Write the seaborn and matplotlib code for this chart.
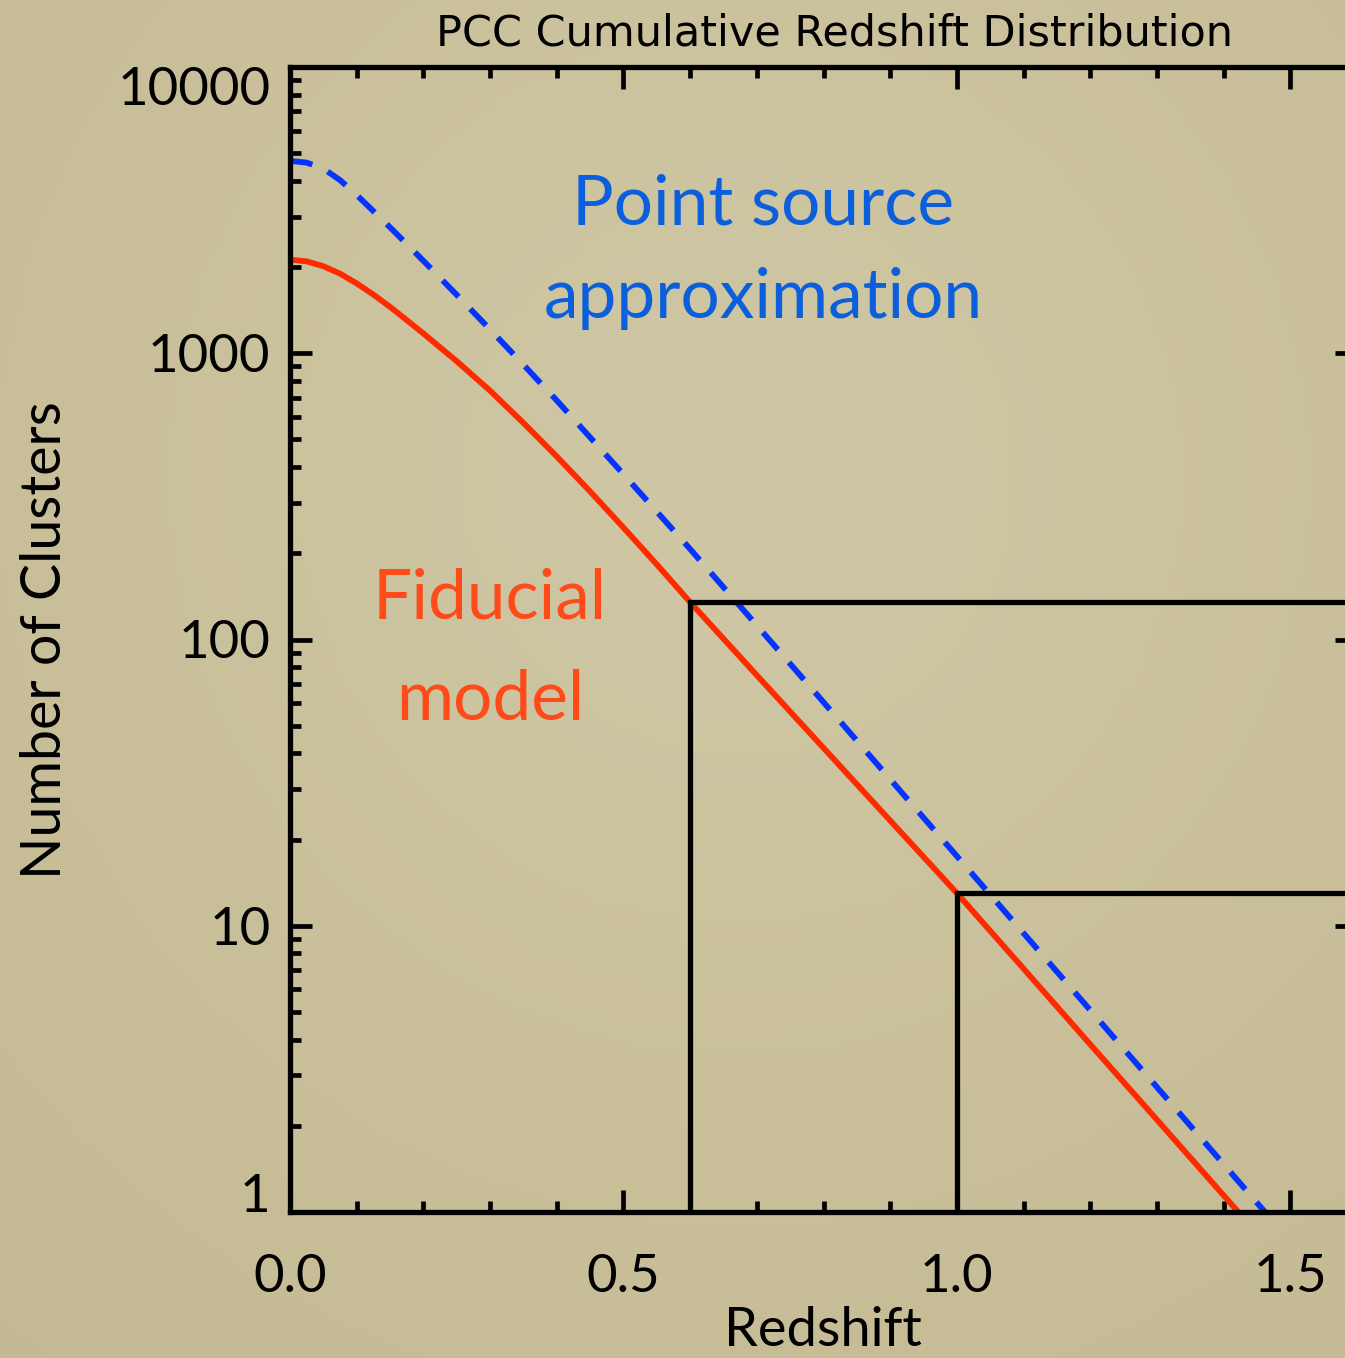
import numpy as np
import pandas as pd
import matplotlib
matplotlib.use("Agg")
import matplotlib.pyplot as plt
from matplotlib.ticker import FixedLocator, LogLocator, NullFormatter, FixedFormatter
import seaborn as sns

# Cumulative cluster counts N(>z) versus redshift
z_fiducial = [0.000, 0.025, 0.050, 0.075, 0.100, 0.125, 0.150, 0.175, 0.200,
              0.250, 0.300, 0.350, 0.400, 0.450, 0.500, 0.550, 0.600, 0.700,
              0.800, 0.900, 1.000, 1.100, 1.200, 1.300, 1.422]
n_fiducial = [2123, 2094, 2014, 1897, 1754, 1603, 1452, 1306, 1172,
              938, 740, 571, 436, 329, 246, 183, 135, 75.0,
              41.8, 23.3, 13.0, 7.08, 3.85, 2.10, 1.0]

z_point = [0.000, 0.025, 0.050, 0.075, 0.100, 0.150, 0.200, 0.250, 0.300,
           0.350, 0.400, 0.500, 0.600, 0.700, 0.800, 0.900, 1.000, 1.100,
           1.200, 1.300, 1.462]
n_point = [4699, 4634, 4416, 4027, 3573, 2754, 2104, 1600, 1211,
           912, 684, 378, 207, 112, 60.4, 32.5, 17.5, 9.42,
           5.07, 2.73, 1.0]

# Redshift cuts and the cumulative counts beyond them
cut_z = [0.6, 1.0]
cut_n = [135, 13]

x_ticks = [0.0, 0.5, 1.0, 1.5]
x_ticklabels = ["0.0", "0.5", "1.0", "1.5"]
y_ticks = [1, 10, 100, 1000, 10000]
y_ticklabels = ["1", "10", "100", "1000", "10000"]

sns.set_style("ticks")
plt.rcParams["font.family"] = ["Lato", "DejaVu Sans"]
plt.rcParams["text.color"] = "black"
plt.rcParams["axes.labelcolor"] = "black"

W, H, DPI = 1345, 1358, 100
fig = plt.figure(figsize=(W / DPI, H / DPI), dpi=DPI)

# parchment-like backdrop
bg = fig.add_axes([0, 0, 1, 1], zorder=-10)
yy, xx = np.mgrid[0:1:200j, 0:1:200j]
r = np.sqrt((xx - 0.55) ** 2 + (yy - 0.35) ** 2)
shade = np.clip(r / 0.9, 0, 1)
c_in = np.array([208, 200, 165]) / 255
c_out = np.array([195, 185, 146]) / 255
img = c_in[None, None, :] * (1 - shade[..., None]) + c_out[None, None, :] * shade[..., None]
bg.imshow(img, aspect="auto", extent=[0, 1, 0, 1], origin="upper")
bg.set_axis_off()

left, bottom = 290 / W, 1 - 1212 / H
right, top = 1357 / W, 1 - 67 / H
ax = fig.add_axes([left, bottom, right - left, top - bottom])
ax.set_facecolor("none")

df_fid = pd.DataFrame({"z": z_fiducial, "N": n_fiducial})
df_pt = pd.DataFrame({"z": z_point, "N": n_point})

sns.lineplot(data=df_fid, x="z", y="N", ax=ax, color="#FF2A00", linewidth=4.2,
             sort=False, estimator=None)
sns.lineplot(data=df_pt, x="z", y="N", ax=ax, color="#0533FF", linewidth=4.2,
             sort=False, estimator=None)
ax.lines[-1].set_dashes((3.9, 2.9))
ax.lines[-1].set_dash_capstyle("butt")

ax.set_yscale("log")
ax.set_xlim(0, 1.6)
ax.set_ylim(1, 10000)

# step boxes marking the redshift cuts
for zc, nc in zip(cut_z, cut_n):
    ax.plot([zc, zc, 1.6], [1, nc, nc], color="black", linewidth=3.8,
            solid_joinstyle="miter", clip_on=False, zorder=3)

for s in ax.spines.values():
    s.set_linewidth(3.8)
    s.set_color("black")

ax.xaxis.set_major_locator(FixedLocator(x_ticks))
ax.xaxis.set_major_formatter(FixedFormatter(x_ticklabels))
ax.xaxis.set_minor_locator(FixedLocator(np.arange(0, 1.61, 0.1)))
ax.yaxis.set_major_locator(FixedLocator(y_ticks))
ax.yaxis.set_major_formatter(FixedFormatter(y_ticklabels))
ax.yaxis.set_minor_locator(LogLocator(base=10, subs=np.arange(2, 10)))
ax.yaxis.set_minor_formatter(NullFormatter())

ax.tick_params(which="both", direction="in", top=True, right=True, color="black")
ax.tick_params(which="major", length=16, width=3.4, labelsize=38, colors="black")
ax.tick_params(which="minor", length=8, width=3.4)
ax.tick_params(axis="x", which="major", pad=30)
ax.tick_params(axis="y", which="major", pad=14)

# end labels sit inside the axis range
yt = ax.yaxis.get_major_ticks()
yt[0].label1.set_verticalalignment("baseline")
yt[-1].label1.set_verticalalignment("top")

ax.set_xlabel("Redshift", fontsize=39)
ax.set_ylabel("Number of Clusters", fontsize=40)
ax.xaxis.set_label_coords((823 - 290) / (1357 - 290), -(1330 - 1212) / (1212 - 67))
ax.xaxis.label.set_verticalalignment("center")
ax.yaxis.set_label_coords(-(290 - 45) / (1357 - 290), (1212 - 640) / (1212 - 67))
ax.yaxis.label.set_verticalalignment("center")

fig.text(835 / W, 1 - 33 / H, "PCC Cumulative Redshift Distribution",
         ha="center", va="center", fontsize=31, fontweight="medium",
         family=["DejaVu Sans"], color="black")

ax.text(0.71, 3300, "Point source", ha="center", va="center",
        fontsize=50, color="#0B5FDC")
ax.text(0.71, 1550, "approximation", ha="center", va="center",
        fontsize=50, color="#0B5FDC")
ax.text(0.30, 138, "Fiducial", ha="center", va="center",
        fontsize=50, color="#FF4A1A")
ax.text(0.30, 61, "model", ha="center", va="center",
        fontsize=50, color="#FF4A1A")

fig.savefig("out.png", dpi=DPI)
